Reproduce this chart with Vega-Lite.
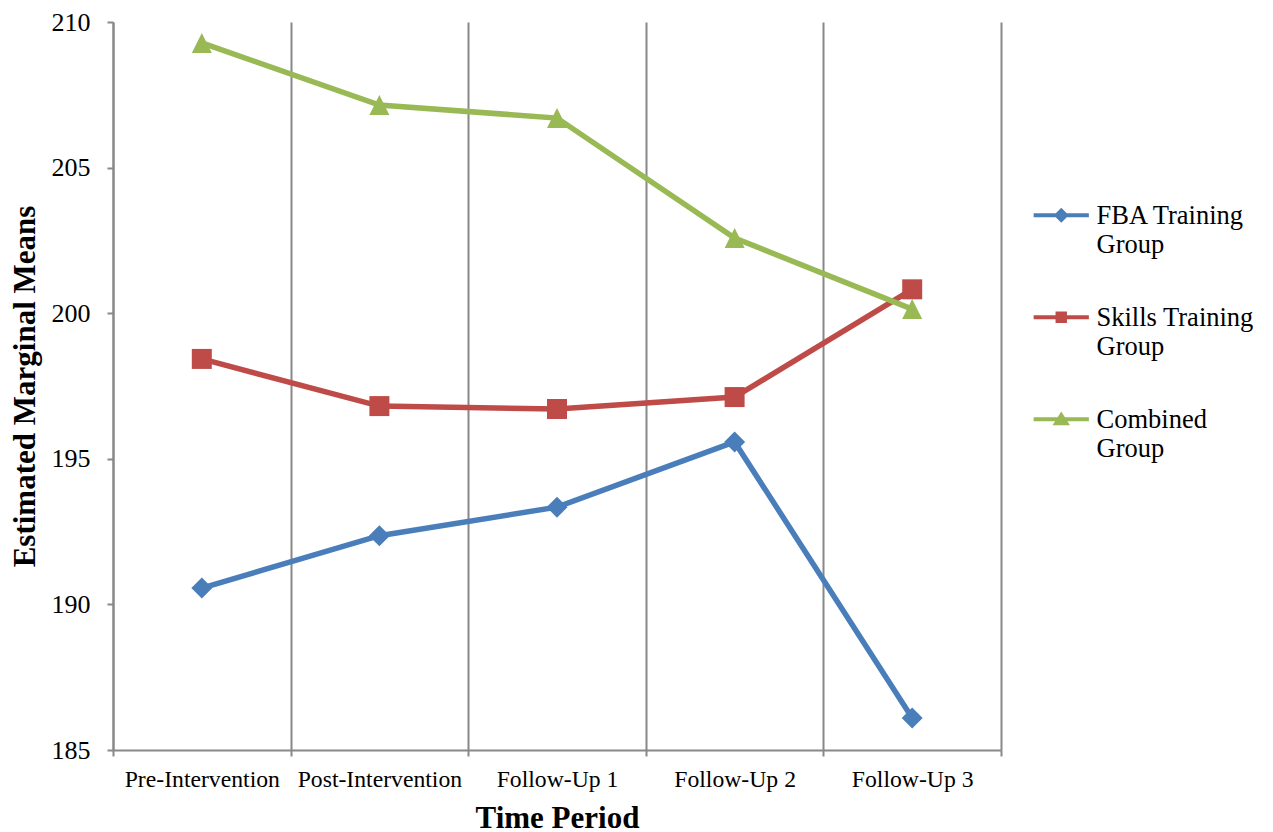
{
  "$schema": "https://vega.github.io/schema/vega-lite/v6.json",
  "width": 888,
  "height": 728,
  "autosize": "none",
  "padding": {"left": 113, "top": 22, "right": 272, "bottom": 82},
  "background": "white",
  "config": {
    "view": {"stroke": null},
    "font": "Liberation Serif",
    "legend": {
      "title": null,
      "labelFont": "Liberation Serif",
      "labelFontSize": 26.5,
      "labelColor": "black",
      "labelLimit": 300,
      "labelOffset": 22,
      "labelBaseline": "top",
      "symbolSize": 144,
      "symbolStrokeWidth": 0,
      "symbolOpacity": 1,
      "rowPadding": 33
    }
  },
  "data": {
    "values": [
      {"period": "Pre-Intervention", "group": "FBA Training Group", "mean": 190.56},
      {"period": "Post-Intervention", "group": "FBA Training Group", "mean": 192.36},
      {"period": "Follow-Up 1", "group": "FBA Training Group", "mean": 193.34},
      {"period": "Follow-Up 2", "group": "FBA Training Group", "mean": 195.58},
      {"period": "Follow-Up 3", "group": "FBA Training Group", "mean": 186.1},
      {"period": "Pre-Intervention", "group": "Skills Training Group", "mean": 198.43},
      {"period": "Post-Intervention", "group": "Skills Training Group", "mean": 196.81},
      {"period": "Follow-Up 1", "group": "Skills Training Group", "mean": 196.71},
      {"period": "Follow-Up 2", "group": "Skills Training Group", "mean": 197.12},
      {"period": "Follow-Up 3", "group": "Skills Training Group", "mean": 200.82},
      {"period": "Pre-Intervention", "group": "Combined Group", "mean": 209.28},
      {"period": "Post-Intervention", "group": "Combined Group", "mean": 207.15},
      {"period": "Follow-Up 1", "group": "Combined Group", "mean": 206.7},
      {"period": "Follow-Up 2", "group": "Combined Group", "mean": 202.58},
      {"period": "Follow-Up 3", "group": "Combined Group", "mean": 200.14}
    ]
  },
  "encoding": {
    "x": {
      "field": "period",
      "type": "nominal",
      "sort": ["Pre-Intervention", "Post-Intervention", "Follow-Up 1", "Follow-Up 2", "Follow-Up 3"],
      "scale": {"paddingInner": 0, "paddingOuter": 0},
      "axis": {
        "title": "Time Period",
        "titleFont": "Liberation Serif",
        "titleFontSize": 31,
        "titleFontWeight": "bold",
        "titleColor": "black",
        "titlePadding": 13,
        "labelFont": "Liberation Serif",
        "labelFontSize": 23.7,
        "labelColor": "black",
        "labelAngle": 0,
        "labelPadding": 11,
        "tickBand": "extent",
        "ticks": true,
        "tickSize": 6,
        "tickColor": "#888888",
        "tickWidth": 2,
        "grid": true,
        "gridColor": "#888888",
        "gridWidth": 2,
        "domainColor": "#888888",
        "domainWidth": 2
      }
    },
    "y": {
      "field": "mean",
      "type": "quantitative",
      "scale": {"domain": [185, 210], "nice": false, "zero": false},
      "axis": {
        "title": "Estimated Marginal Means",
        "titleFont": "Liberation Serif",
        "titleFontSize": 31,
        "titleFontWeight": "bold",
        "titleColor": "black",
        "titlePadding": 10,
        "values": [185, 190, 195, 200, 205, 210],
        "labelFont": "Liberation Serif",
        "labelFontSize": 26,
        "labelColor": "black",
        "labelPadding": 17,
        "grid": false,
        "tickSize": 6,
        "tickColor": "#888888",
        "tickWidth": 2,
        "domainColor": "#888888",
        "domainWidth": 2
      }
    },
    "color": {
      "field": "group",
      "type": "nominal",
      "sort": ["FBA Training Group", "Skills Training Group", "Combined Group"],
      "scale": {
        "domain": ["FBA Training Group", "Skills Training Group", "Combined Group"],
        "range": ["#4A7EBB", "#BE4B48", "#98B954"]
      },
      "legend": {
        "title": null,
        "orient": "none",
        "legendX": 935,
        "legendY": 168,
        "labelBaseline": "top",
        "labelExpr": "[slice(datum.label, 0, lastindexof(datum.label, ' ')), slice(datum.label, lastindexof(datum.label, ' ') + 1)]"
      }
    }
  },
  "layer": [
    {
      "mark": {"type": "line", "strokeWidth": 5.5},
      "encoding": {}
    },
    {
      "transform": [{"filter": {"field": "group", "equal": "FBA Training Group"}}],
      "mark": {"type": "point", "filled": true, "opacity": 1, "size": 441, "shape": "diamond"},
      "encoding": {}
    },
    {
      "transform": [{"filter": {"field": "group", "equal": "Skills Training Group"}}],
      "mark": {"type": "point", "filled": true, "opacity": 1, "size": 400, "shape": "square"},
      "encoding": {}
    },
    {
      "transform": [{"filter": {"field": "group", "equal": "Combined Group"}}],
      "mark": {"type": "point", "filled": true, "opacity": 1, "size": 400, "shape": "M0,-1L1,1L-1,1Z"},
      "encoding": {}
    },
    {
      "transform": [{"filter": "false"}],
      "mark": {"type": "point", "filled": true, "opacity": 1},
      "encoding": {
        "shape": {
          "field": "group",
          "type": "nominal",
          "scale": {
            "domain": ["FBA Training Group", "Skills Training Group", "Combined Group"],
            "range": [
              "M-4.6,1.67H4.6V2.33H-4.6Z M0,0.75L1.25,2L0,3.25L-1.25,2Z",
              "M-4.6,1.67H4.6V2.33H-4.6Z M-0.95,1.05H0.95V2.95H-0.95Z",
              "M-4.6,1.67H4.6V2.33H-4.6Z M0,0.7L1.45,3.0L-1.45,3.0Z"
            ]
          },
          "legend": {
            "title": null,
            "orient": "none",
            "legendX": 935,
            "legendY": 168,
            "labelBaseline": "top",
            "labelExpr": "[slice(datum.label, 0, lastindexof(datum.label, ' ')), slice(datum.label, lastindexof(datum.label, ' ') + 1)]"
          }
        }
      }
    }
  ]
}
